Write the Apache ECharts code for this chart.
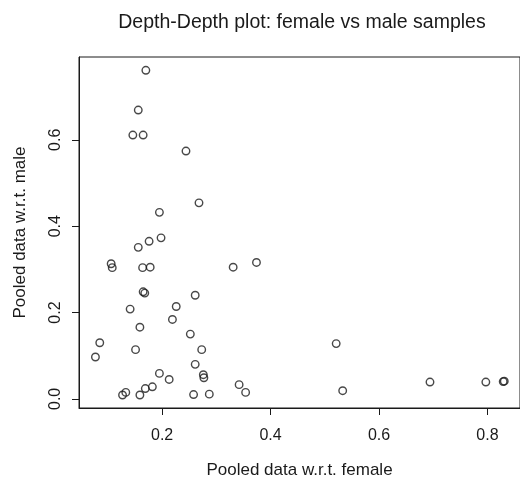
<!DOCTYPE html>
<html>
<head>
<meta charset="utf-8">
<script src="https://cdn.jsdelivr.net/npm/echarts@6/dist/echarts.min.js"></script>
<style>
  html, body { margin: 0; padding: 0; background: #fff; }
  #chart { width: 520px; height: 484px; }
</style>
</head>
<body>
<div id="chart"></div>
<script>
// depth w.r.t. female sample (x) and male sample (y)
const femaleDepth = [
  0.170, 0.156, 0.146, 0.165, 0.244, 0.268, 0.195, 0.198, 0.156, 0.176,
  0.106, 0.108, 0.164, 0.178, 0.331, 0.374, 0.165, 0.168, 0.261, 0.226,
  0.141, 0.219, 0.159, 0.252, 0.085, 0.077, 0.151, 0.273, 0.261, 0.276,
  0.277, 0.195, 0.213, 0.182, 0.169, 0.127, 0.133, 0.159, 0.258, 0.287,
  0.342, 0.354, 0.521, 0.533, 0.694, 0.797, 0.829, 0.831
]
const maleDepth = [
  0.761, 0.669, 0.611, 0.611, 0.574, 0.454, 0.432, 0.373, 0.351, 0.365,
  0.313, 0.304, 0.304, 0.305, 0.305, 0.316, 0.248, 0.245, 0.240, 0.214,
  0.208, 0.184, 0.166, 0.150, 0.130, 0.097, 0.114, 0.114, 0.080, 0.056,
  0.049, 0.059, 0.045, 0.028, 0.024, 0.009, 0.015, 0.009, 0.010, 0.011,
  0.033, 0.015, 0.128, 0.019, 0.039, 0.039, 0.040, 0.041
]
const xTicks = [0.2, 0.4, 0.6, 0.8]
const yTicks = [0.0, 0.2, 0.4, 0.6]

const chart = echarts.init(document.getElementById('chart'))
const font = '"Liberation Sans", Arial, sans-serif'
const ink = '#1a1a1a'

const option = {
  animation: false,
  textStyle: { fontFamily: font },
  graphic: [{
    type: 'text',
    x: 302,
    y: 23,
    style: {
      text: 'Depth-Depth plot: female vs male samples',
      fontSize: 19.5,
      fontFamily: font,
      fill: ink,
      align: 'center',
      verticalAlign: 'middle'
    }
  }],
  grid: {
    left: 79,
    top: 57,
    bottom: 69,
    right: -5,
    show: true,
    borderColor: ink,
    borderWidth: 1,
    backgroundColor: 'transparent'
  },
  xAxis: {
    type: 'value',
    min: 0.0467,
    max: 0.86,
    name: 'Pooled data w.r.t. female',
    nameLocation: 'middle',
    nameGap: 54,
    nameTextStyle: { fontSize: 17, color: ink, fontFamily: font },
    axisLine: { show: true, onZero: false, lineStyle: { color: ink } },
    axisTick: { show: true, length: 7, customValues: xTicks, lineStyle: { color: ink } },
    axisLabel: {
      customValues: xTicks,
      formatter: v => v.toFixed(1),
      fontSize: 16,
      color: ink,
      margin: 20
    },
    splitLine: { show: false }
  },
  yAxis: {
    type: 'value',
    min: -0.0211,
    max: 0.7918,
    name: 'Pooled data w.r.t. male',
    nameLocation: 'middle',
    nameGap: 50,
    nameTextStyle: { fontSize: 17, color: ink, fontFamily: font },
    axisLine: { show: true, onZero: false, lineStyle: { color: ink } },
    axisTick: { show: true, length: 7, customValues: yTicks, lineStyle: { color: ink } },
    axisLabel: {
      customValues: yTicks,
      formatter: v => v.toFixed(1),
      rotate: 90,
      fontSize: 16,
      color: ink,
      margin: 15
    },
    splitLine: { show: false }
  },
  series: [{
    type: 'scatter',
    symbol: 'circle',
    symbolSize: 7.5,
    data: femaleDepth.map((x, i) => [x, maleDepth[i]]),
    itemStyle: {
      color: 'rgba(0,0,0,0)',
      borderColor: ink,
      borderWidth: 1.4
    }
  }]
}

chart.setOption(option)
</script>
</body>
</html>
